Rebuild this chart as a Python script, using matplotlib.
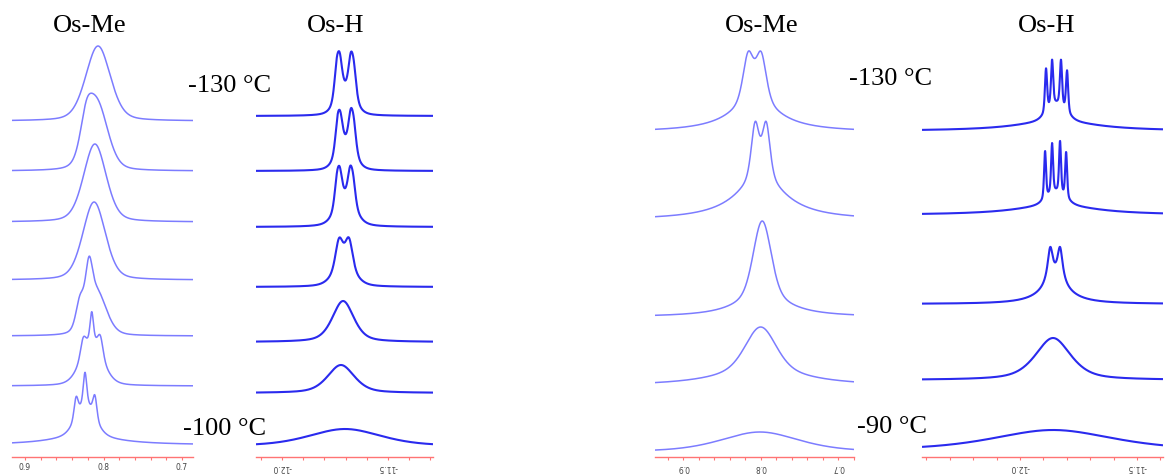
import numpy as np
import matplotlib.pyplot as plt
from matplotlib.ticker import FixedLocator

W, H = 1167, 476

# each trace: list of lines (shift ppm, fwhm ppm, height, lorentz share)
me_left = [
    [(0.807, 0.037, 75, 0.3)],
    [(0.808, 0.032, 66, 0.3), (0.822, 0.018, 32, 0.3)],
    [(0.811, 0.034, 78, 0.3)],
    [(0.812, 0.034, 78, 0.3)],
    [(0.8096, 0.030, 45, 0.3), (0.8185, 0.010, 42, 0.3), (0.830, 0.012, 25, 0.3)],
    [(0.815, 0.032, 45, 0.3), (0.815, 0.005, 28, 0.3), (0.826, 0.008, 16, 0.3),
     (0.804, 0.008, 18, 0.3)],
    [(0.823, 0.028, 34, 0.4), (0.8236, 0.005, 30, 0.3), (0.835, 0.006, 20, 0.3),
     (0.811, 0.006, 22, 0.3), (0.825, 0.10, 8, 1.0)],
]
h_left = [
    [(-11.742, 0.028, 31, 0.5), (-11.727, 0.028, 30, 0.5), (-11.676, 0.028, 32, 0.5),
     (-11.661, 0.028, 26, 0.5), (-11.70, 0.09, 22, 0.3)],
    [(-11.738, 0.028, 29, 0.5), (-11.724, 0.028, 24, 0.5), (-11.676, 0.028, 31, 0.5),
     (-11.661, 0.028, 24, 0.5), (-11.70, 0.09, 23, 0.3)],
    [(-11.741, 0.028, 25, 0.5), (-11.727, 0.028, 25, 0.5), (-11.679, 0.028, 27, 0.5),
     (-11.664, 0.028, 21, 0.5), (-11.70, 0.10, 26, 0.4)],
    [(-11.731, 0.04, 28, 0.4), (-11.684, 0.04, 28, 0.4), (-11.707, 0.11, 22, 0.4)],
    [(-11.712, 0.12, 41, 0.5)],
    [(-11.722, 0.15, 28, 0.5)],
    [(-11.703, 0.40, 17, 0.4)],
]
me_right = [
    [(0.8161, 0.016, 48, 0.5), (0.7994, 0.016, 48, 0.5), (0.808, 0.08, 28, 1.0)],
    [(0.8071, 0.012, 55, 0.5), (0.7929, 0.012, 55, 0.5), (0.800, 0.08, 40, 1.0)],
    [(0.798, 0.026, 70, 0.2), (0.798, 0.07, 26, 1.0)],
    [(0.800, 0.045, 40, 0.3), (0.800, 0.12, 19, 1.0)],
    [(0.801, 0.12, 20, 0.5)],
]
h_right = [
    [(-11.889, 0.011, 44, 0.5), (-11.863, 0.011, 46, 0.5), (-11.825, 0.011, 46, 0.5),
     (-11.799, 0.011, 42, 0.5), (-11.844, 0.09, 16, 0.3), (-11.844, 0.4, 10, 1.0)],
    [(-11.893, 0.010, 48, 0.5), (-11.863, 0.010, 50, 0.5), (-11.829, 0.010, 52, 0.5),
     (-11.803, 0.010, 46, 0.5), (-11.846, 0.09, 12, 0.3), (-11.846, 0.4, 10, 1.0)],
    [(-11.871, 0.028, 35, 1.0), (-11.829, 0.028, 35, 1.0), (-11.850, 0.15, 20, 1.0)],
    [(-11.859, 0.18, 42, 0.6)],
    [(-11.859, 0.6, 20, 0.5)],
]

# tick labels (the ppm scales were pasted upside down except the first)
me_left_ticks = [0.9, 0.8, 0.7]
me_left_labels = ["0.9", "0.8", "0.7"]
h_left_ticks = [-12.0, -11.5]
h_left_labels = ["-12.0", "-11.5"]
me_right_ticks = [0.9, 0.8, 0.7]
me_right_labels = ["0.9", "0.8", "0.7"]
h_right_ticks = [-12.0, -11.5]
h_right_labels = ["-12.0", "-11.5"]

# layout: pixel extent of each panel, ppm limits, trace baselines (px)
panels = [
    dict(px=(12, 193), lim=(0.9166, 0.686), data=me_left,
         base=[121, 171, 222, 280, 336, 386, 445], color="#7c7cff", lw=1.1,
         ticks=me_left_ticks, labels=me_left_labels, minor=0.02, rot=0),
    dict(px=(256, 433), lim=(-12.1226, -11.288), data=h_left,
         base=[116, 171, 227, 287, 342, 393, 446], color="#2a2aee", lw=1.5,
         ticks=h_left_ticks, labels=h_left_labels, minor=0.1, rot=180),
    dict(px=(655, 854), lim=(0.9361, 0.6798), data=me_right,
         base=[132, 220, 317, 386, 452], color="#7c7cff", lw=1.1,
         ticks=me_right_ticks, labels=me_right_labels, minor=0.02, rot=180),
    dict(px=(922, 1163), lim=(-12.419, -11.389), data=h_right,
         base=[131, 215, 304, 380, 450], color="#2a2aee", lw=1.5,
         ticks=h_right_ticks, labels=h_right_labels, minor=0.1, rot=180),
]


def line(x, c, w, h, f):
    d = (x - c) / (w / 2)
    return h * (f / (1 + d**2) + (1 - f) * np.exp(-np.log(2) * d**2))


fig = plt.figure(figsize=(W / 100, H / 100), dpi=100)
red = "#ff7474"

for p in panels:
    x0, x1 = p["px"]
    ax = fig.add_axes([x0 / W, 0, (x1 - x0) / W, 1])
    ax.patch.set_visible(False)
    a, b = p["lim"]
    x = np.linspace(a, b, 1500)
    for peaks, base in zip(p["data"], p["base"]):
        y = np.zeros_like(x)
        for c, w, h, f in peaks:
            y += line(x, c, w, h, f)
        ax.plot(x, base - y, color=p["color"], lw=p["lw"], solid_capstyle="butt")
    ax.set_xlim(a, b)
    ax.set_ylim(H, 0)
    for s in ["top", "left", "right"]:
        ax.spines[s].set_visible(False)
    ax.spines["bottom"].set_position(("data", 457))
    ax.spines["bottom"].set_color(red)
    ax.spines["bottom"].set_linewidth(1.0)
    ax.yaxis.set_visible(False)
    lo, hi = min(a, b), max(a, b)
    step = p["minor"]
    minor = np.arange(np.ceil(lo / step - 1e-6) * step, hi + 1e-9, step)
    ax.xaxis.set_major_locator(FixedLocator(p["ticks"]))
    ax.xaxis.set_minor_locator(FixedLocator(minor))
    ax.set_xticklabels(p["labels"], rotation=p["rot"])
    ax.tick_params(axis="x", which="both", direction="out", length=2.5, width=0.8,
                   color=red, labelsize=5.5, labelcolor="#444444", pad=1.5)


def label(x, y, s, ha="left"):
    fig.text(x / W, 1 - y / H, s, ha=ha, va="baseline", fontsize=19,
             family="Liberation Serif", color="black")


label(90, 32.5, "Os-Me", "center")
label(336, 32.5, "Os-H", "center")
label(188, 92.5, "-130 °C")
label(183, 435, "-100 °C")
label(762, 31.5, "Os-Me", "center")
label(1047, 31.5, "Os-H", "center")
label(849, 85, "-130 °C")
label(857, 433, "-90 °C")

fig.savefig("out.png", dpi=100, facecolor="white")
